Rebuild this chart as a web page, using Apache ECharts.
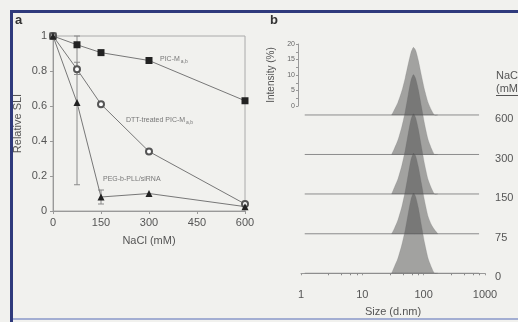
<!DOCTYPE html>
<html><head><meta charset="utf-8">
<script src="https://cdn.jsdelivr.net/npm/echarts@6/dist/echarts.min.js"></script>
<style>html,body{margin:0;padding:0;background:#f1f1ee}#c{width:518px;height:322px}</style>
</head><body><div id="c"></div>
<script>
// ---- Panel a data ----
const nacl = [0, 75, 150, 300, 600];
const picM = [1.0, 0.95, 0.905, 0.86, 0.63];
const dttPicM = [1.0, 0.81, 0.61, 0.34, 0.04];
const pegPll = [1.0, 0.62, 0.08, 0.10, 0.025];
// error bars: [x, low, high]
const dttErr = [[75, 0.78, 0.85]];
const pegErr = [[75, 0.15, 1.0], [150, 0.04, 0.12]];

// ---- Panel b data ----
const sizes = [30, 33, 38, 44, 50, 56, 62, 68, 74, 82, 92, 104, 118, 134, 150, 170];
const saltLevels = ['0', '75', '150', '300', '600'];
const offsets = [0, 13.2, 26.5, 39.7, 52.9];
const intensity = {
  '0':   [0, 2.0, 5.0, 9.5, 14.5, 20.0, 24.6, 26.8, 25.6, 21.8, 16.0, 10.0, 5.0, 2.0, 0, 0],
  '75':  [0, 1.6, 4.6, 9.0, 14.2, 19.8, 24.7, 26.9, 26.0, 22.3, 16.8, 10.8, 5.8, 3.0, 1.4, 0],
  '150': [0, 2.0, 5.0, 9.5, 14.6, 20.2, 24.8, 26.8, 25.5, 21.6, 15.8, 9.8, 4.8, 1.9, 0, 0],
  '300': [0, 1.8, 4.8, 9.3, 14.4, 20.0, 24.7, 26.7, 25.4, 21.6, 16.0, 10.0, 5.0, 2.0, 0, 0],
  '600': [0, 1.6, 4.2, 8.0, 12.4, 17.0, 20.8, 22.6, 21.6, 18.2, 13.2, 8.2, 4.2, 1.6, 0, 0]
};
const baselineSpan = [1.15, 800];
const scaleTicks = [0, 20];

const chart = echarts.init(document.getElementById('c'));
const txt = '#555';
const font = 'Liberation Sans';

function errSeries(data) {
  return {
    type: 'custom', xAxisIndex: 0, yAxisIndex: 0, data: data, z: 1,
    renderItem: function (params, api) {
      const x = api.value(0), lo = api.value(1), hi = api.value(2);
      const p1 = api.coord([x, lo]), p2 = api.coord([x, hi]);
      const st = { stroke: '#8a8a8a', lineWidth: 1 };
      return { type: 'group', children: [
        { type: 'line', shape: { x1: p1[0], y1: p1[1], x2: p2[0], y2: p2[1] }, style: st },
        { type: 'line', shape: { x1: p1[0] - 3, y1: p1[1], x2: p1[0] + 3, y2: p1[1] }, style: st },
        { type: 'line', shape: { x1: p2[0] - 3, y1: p2[1], x2: p2[0] + 3, y2: p2[1] }, style: st }
      ]};
    }
  };
}

function peakSeries(s, off) {
  return {
    type: 'custom', xAxisIndex: 1, yAxisIndex: 1, z: 3,
    data: sizes.map((x, i) => [x, intensity[s][i], off]),
    renderItem: function (params, api) {
      if (params.dataIndexInside !== 0) return;
      const n = params.dataInsideLength;
      const o = api.value(2, 0);
      const pts = [api.coord([api.value(0, 0), o])];
      for (let i = 0; i < n; i++) pts.push(api.coord([api.value(0, i), o + api.value(1, i)]));
      pts.push(api.coord([api.value(0, n - 1), o]));
      return { type: 'polygon', shape: { points: pts, smooth: 0.2 },
        style: { fill: 'rgba(75,75,75,0.48)', stroke: 'rgba(110,110,110,0.35)', lineWidth: 0.6 } };
    }
  };
}

const series = [
  { type: 'line', xAxisIndex: 0, yAxisIndex: 0, data: nacl.map((x, i) => [x, picM[i]]),
    symbol: 'rect', symbolSize: 7, itemStyle: { color: '#222' }, lineStyle: { color: '#777', width: 1 }, z: 3 },
  { type: 'line', xAxisIndex: 0, yAxisIndex: 0, data: nacl.map((x, i) => [x, dttPicM[i]]),
    symbol: 'emptyCircle', symbolSize: 6, itemStyle: { color: '#555', borderColor: '#555', borderWidth: 1 }, lineStyle: { color: '#777', width: 1 }, z: 3 },
  { type: 'line', xAxisIndex: 0, yAxisIndex: 0, data: nacl.map((x, i) => [x, pegPll[i]]),
    symbol: 'triangle', symbolSize: 7, itemStyle: { color: '#222' }, lineStyle: { color: '#777', width: 1 }, z: 3 },
  errSeries(dttErr),
  errSeries(pegErr),
  { type: 'line', xAxisIndex: 2, yAxisIndex: 2, data: [], silent: true }
];

saltLevels.forEach((s, k) => {
  const off = offsets[k];
  series.push({
    type: 'line', name: s, xAxisIndex: 1, yAxisIndex: 1,
    data: baselineSpan.map(x => [x, off]), symbol: 'none',
    lineStyle: { color: '#8c8c8c', width: 1 }, z: 2,
    endLabel: { show: true, formatter: s, color: txt, fontFamily: font, fontSize: 11, distance: 16, offset: [0, 4] }
  });
  series.push(peakSeries(s, off));
});

chart.setOption({
  backgroundColor: '#f1f1ee',
  animation: false,
  textStyle: { fontFamily: font },
  grid: [
    { left: 53, top: 36, width: 192, height: 175, show: true, borderColor: '#aaa', borderWidth: 1, backgroundColor: 'transparent' },
    { left: 301, top: 30, width: 184, height: 260 },
    { left: 298, top: 44, width: 1, height: 62 }
  ],
  xAxis: [
    { gridIndex: 0, type: 'value', min: 0, max: 600, interval: 150,
      axisLine: { lineStyle: { color: '#999' } }, axisTick: { show: true, length: 3, lineStyle: { color: '#999' } },
      splitLine: { show: false },
      axisLabel: { color: txt, fontSize: 11, margin: 6 },
      name: 'NaCl (mM)', nameLocation: 'middle', nameGap: 24, nameTextStyle: { color: txt, fontSize: 11 } },
    { gridIndex: 1, type: 'log', logBase: 10, min: 1, max: 1000,
      axisLine: { lineStyle: { color: '#999' } }, axisTick: { show: true, length: 2, lineStyle: { color: '#999' } },
      minorTick: { show: true, splitNumber: 5, length: 2, lineStyle: { color: '#888' } },
      splitLine: { show: false },
      axisLabel: { color: txt, fontSize: 11, margin: 8, formatter: (v) => String(Math.round(v)) },
      name: 'Size (d.nm)', nameLocation: 'middle', nameGap: 25, nameTextStyle: { color: txt, fontSize: 11 } },
    { gridIndex: 2, type: 'value', show: false, min: 0, max: 1 }
  ],
  yAxis: [
    { gridIndex: 0, type: 'value', min: 0, max: 1, interval: 0.2,
      axisLine: { show: true, lineStyle: { color: '#999' } }, axisTick: { show: true, length: 3, lineStyle: { color: '#999' } },
      splitLine: { show: false },
      axisLabel: { color: txt, fontSize: 11, margin: 6 },
      name: 'Relative SLI', nameLocation: 'middle', nameGap: 30, nameTextStyle: { color: txt, fontSize: 11 } },
    { gridIndex: 1, type: 'value', min: -2.58, max: 81.3, show: false },
    { gridIndex: 2, type: 'value', min: scaleTicks[0], max: scaleTicks[1], interval: 5,
      axisLine: { show: true, lineStyle: { color: '#999' } }, axisTick: { show: true, length: 2, lineStyle: { color: '#999' } },
      minorTick: { show: true, splitNumber: 2, length: 2, lineStyle: { color: '#999' } },
      splitLine: { show: false },
      axisLabel: { color: '#666', fontSize: 7, margin: 3 },
      name: 'Intensity (%)', nameLocation: 'middle', nameGap: 22, nameTextStyle: { color: txt, fontSize: 10 } }
  ],
  series: series,
  graphic: [
    { type: 'rect', shape: { x: 10, y: 10, width: 508, height: 3 }, style: { fill: '#2f3a7c' }, silent: true },
    { type: 'rect', shape: { x: 10, y: 10, width: 3, height: 312 }, style: { fill: '#2f3a7c' }, silent: true },
    { type: 'rect', shape: { x: 13, y: 318, width: 505, height: 2 }, style: { fill: '#a3aed2' }, silent: true },
    { type: 'text', left: 15, top: 14, style: { text: 'a', fontSize: 13, fontWeight: 'bold', fill: '#333', fontFamily: font } },
    { type: 'text', left: 270, top: 14, style: { text: 'b', fontSize: 13, fontWeight: 'bold', fill: '#333', fontFamily: font } },
    { type: 'text', left: 160, top: 56, style: { text: 'PIC-M{s|a,b}', fontSize: 7, fill: '#777', fontFamily: font, rich: { s: { fontSize: 5, fill: '#777', padding: [4, 0, 0, 1] } } } },
    { type: 'text', left: 126, top: 117, style: { text: 'DTT-treated PIC-M{s|a,b}', fontSize: 7, fill: '#777', fontFamily: font, rich: { s: { fontSize: 5, fill: '#777', padding: [4, 0, 0, 1] } } } },
    { type: 'text', left: 103, top: 176, style: { text: 'PEG-b-PLL/siRNA', fontSize: 7, fill: '#777', fontFamily: font } },
    { type: 'text', left: 496, top: 69, style: { text: 'NaCl\n(mM)', fontSize: 11, lineHeight: 13, fill: txt, fontFamily: font } },
    { type: 'rect', shape: { x: 496, y: 95, width: 22, height: 1 }, style: { fill: '#555' }, silent: true }
  ]
});
</script></body></html>
